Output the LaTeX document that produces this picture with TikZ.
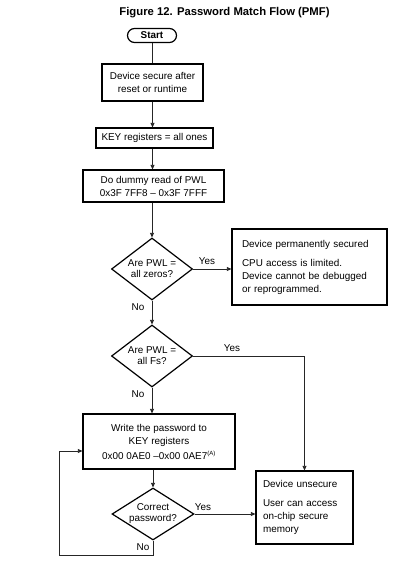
\documentclass[tikz,border=0pt]{standalone}
\usepackage{fontspec}
\setmainfont{Liberation Sans}
\usetikzlibrary{shapes.geometric,arrows.meta}
\begin{document}
\begin{tikzpicture}[x=1pt,y=-1pt,
  every node/.style={font=\fontsize{9.9}{13}\selectfont},
  box/.style={draw, line width=1.2pt, inner sep=0pt, align=center},
  dia/.style={draw, line width=1.2pt, diamond, aspect=1.3, inner sep=-8pt, align=center, font=\fontsize{9.9}{11}\selectfont},
  conn/.style={line width=0.8pt, draw=black!85},
  arr/.style={conn, -{Triangle[length=4.5pt,width=4pt]}},
  lbl/.style={inner sep=0pt},
]
\useasboundingbox (0,0) rectangle (414,562);
\node[font=\bfseries\fontsize{11.3}{13}\selectfont] (title) at (224.5,13) {Figure 12. Password Match Flow (PMF)};
\node[box, rounded corners=7pt, minimum width=49pt, minimum height=14pt, font=\bfseries\fontsize{9.9}{11}\selectfont] (start) at (152,35.5) {Start};
\node[box, minimum width=101pt, minimum height=37pt] (b1) at (152.5,82.5) {Device secure after\\reset or runtime};
\node[box, minimum width=117pt, minimum height=20pt] (b2) at (154.5,138) {KEY registers = all ones};
\node[box, minimum width=141pt, minimum height=32pt] (b3) at (153.5,186) {Do dummy read of PWL\\0x3F 7FF8 – 0x3F 7FFF};
\node[dia, minimum width=81pt, minimum height=62pt] (d1) at (152,269) {Are PWL =\\all zeros?};
\node[box, minimum width=155pt, minimum height=76pt, text width=135pt, align=left] (perm) at (309.5,267) {Device permanently secured\\[6pt]CPU access is limited.\\Device cannot be debugged\\or reprogrammed.};
\node[dia, minimum width=81pt, minimum height=62pt] (d2) at (152,356) {Are PWL =\\all Fs?};
\node[box, minimum width=152pt, minimum height=55pt] (w) at (159,441.5) {Write the password to\\KEY registers\\[2pt]0x00 0AE0 –0x00 0AE7\textsuperscript{\fontsize{6}{6}\selectfont(A)}};
\node[dia, minimum width=82pt, minimum height=52pt] (d3) at (153,514) {Correct\\password?};
\node[box, minimum width=97pt, minimum height=73pt, text width=83pt, align=left] (u) at (304.5,507.5) {Device unsecure\\[6pt]User can access\\on-chip secure\\memory};
\coordinate (lp) at (59,555);
\draw[conn] (start.south) -- (start.south |- b1.north);
\draw[arr] (b1.south) -- (b1.south |- b2.north);
\draw[arr] (b2.south -| b1.south) -- (b1.south |- b3.north);
\draw[arr] (b3.south -| d1.north) -- (d1.north);
\draw[arr] (d1.east) -- (d1.east -| perm.west);
\draw[arr] (d1.south) -- (d2.north);
\draw[arr] (d2.east) -| (u.north);
\draw[arr] (d2.south) -- (d2.south |- w.north);
\draw[arr] (d3.north |- w.south) -- (d3.north);
\draw[arr] (d3.east) -- (d3.east -| u.west);
\draw[arr] (d3.south) |- (lp) |- ([yshift=-9.5pt]w.west);
\node[lbl] (y1) at (207,261) {Yes};
\node[lbl] (n1) at (138,307) {No};
\node[lbl] (y2) at (232,348) {Yes};
\node[lbl] (n2) at (138,394) {No};
\node[lbl] (y3) at (203,507) {Yes};
\node[lbl] (n3) at (143,547) {No};
\end{tikzpicture}
\end{document}
